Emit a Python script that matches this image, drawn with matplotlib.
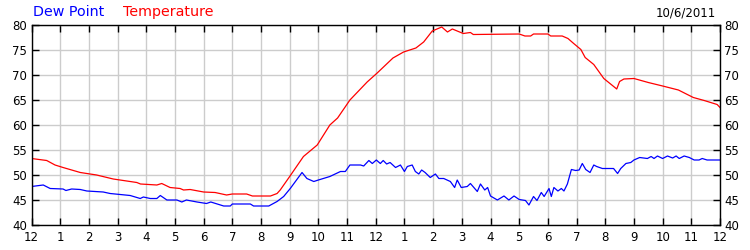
import matplotlib
matplotlib.use("Agg")
import matplotlib.pyplot as plt

# Temperature (hours since midnight, degrees)
temp_h = [0.0, 0.53, 0.82, 1.1, 1.7, 2.27, 2.85, 3.67, 3.8, 4.37, 4.54, 4.83, 5.18, 5.3, 5.53,
          6.0, 6.4, 6.8, 7.0, 7.5, 7.7, 8.33, 8.56, 8.67, 9.0, 9.48, 9.96, 10.4, 10.67, 11.1,
          11.7, 12.05, 12.6, 12.97, 13.4, 13.67, 13.97, 14.3, 14.5, 14.67, 15.05, 15.3, 15.4,
          17.0, 17.2, 17.4, 17.5, 18.0, 18.1, 18.5, 18.7, 18.9, 19.15, 19.3, 19.6, 19.95,
          20.4, 20.5, 20.65, 21.0, 21.5, 22.0, 22.55, 23.07, 23.45, 23.9, 24.0]
temp_v = [53.3, 52.9, 52.0, 51.5, 50.5, 50.0, 49.2, 48.5, 48.2, 48.0, 48.3, 47.5, 47.3, 47.0, 47.1,
          46.6, 46.5, 46.0, 46.2, 46.2, 45.8, 45.8, 46.3, 47.0, 49.7, 53.7, 56.0, 60.0, 61.4, 65.0,
          68.6, 70.4, 73.4, 74.6, 75.4, 76.6, 78.8, 79.6, 78.6, 79.2, 78.3, 78.5, 78.1,
          78.2, 77.8, 77.8, 78.2, 78.2, 77.8, 77.8, 77.3, 76.3, 75.1, 73.5, 72.1, 69.3,
          67.2, 68.7, 69.2, 69.3, 68.5, 67.8, 67.0, 65.5, 64.9, 64.1, 63.5]

# Dew point
dew_h = [0.0, 0.41, 0.65, 1.1, 1.2, 1.4, 1.7, 1.93, 2.5, 2.74, 3.44, 3.79, 3.9, 4.14, 4.37, 4.49,
         4.72, 5.07, 5.24, 5.4, 5.77, 6.1, 6.25, 6.7, 6.93, 7.0, 7.63, 7.74, 8.27, 8.56, 8.79,
         9.02, 9.43, 9.6, 9.84, 10.0, 10.4, 10.77, 10.94, 11.1, 11.47, 11.58, 11.76, 11.88,
         12.02, 12.16, 12.26, 12.38, 12.5, 12.69, 12.86, 13.0, 13.1, 13.27, 13.38, 13.5, 13.6,
         13.72, 13.9, 14.08, 14.2, 14.37, 14.6, 14.75, 14.84, 14.98, 15.19, 15.3, 15.42, 15.54,
         15.65, 15.8, 15.9, 16.0, 16.24, 16.47, 16.64, 16.82, 17.0, 17.22, 17.34, 17.5, 17.62,
         17.77, 17.87, 18.04, 18.12, 18.21, 18.35, 18.47, 18.56, 18.68, 18.82, 18.97, 19.09,
         19.2, 19.32, 19.47, 19.6, 19.7, 19.9, 20.08, 20.29, 20.43, 20.54, 20.72, 20.89, 21.0,
         21.2, 21.47, 21.6, 21.7, 21.82, 22.0, 22.17, 22.35, 22.47, 22.58, 22.75, 22.93, 23.1,
         23.27, 23.38, 23.55, 23.68, 24.0]
dew_v = [47.7, 48.0, 47.3, 47.2, 46.9, 47.2, 47.1, 46.8, 46.6, 46.3, 45.9, 45.3, 45.6, 45.3, 45.3, 45.9,
         45.0, 45.0, 44.6, 45.0, 44.6, 44.3, 44.6, 43.8, 43.8, 44.2, 44.2, 43.8, 43.8, 44.7, 45.7,
         47.3, 50.5, 49.3, 48.7, 49.0, 49.7, 50.7, 50.7, 52.0, 52.0, 51.8, 52.9, 52.3,
         53.0, 52.3, 52.9, 52.2, 52.5, 51.5, 52.0, 50.7, 51.7, 52.0, 50.7, 50.2, 51.0,
         50.5, 49.5, 50.2, 49.3, 49.3, 48.7, 47.5, 49.0, 47.5, 47.7, 48.3, 47.5, 46.7,
         48.2, 47.0, 47.5, 45.8, 45.0, 45.8, 45.0, 45.8, 45.1, 44.9, 44.0, 45.7, 44.9,
         46.5, 45.7, 47.3, 45.7, 47.5, 46.8, 47.3, 46.8, 48.2, 51.1, 50.9, 51.0,
         52.3, 51.1, 50.5, 52.0, 51.7, 51.3, 51.3, 51.3, 50.3, 51.3, 52.3, 52.5, 53.0,
         53.5, 53.3, 53.7, 53.3, 53.8, 53.3, 53.8, 53.4, 53.8, 53.3, 53.8, 53.5, 53.0,
         53.0, 53.3, 53.0, 53.0, 53.0]

xtick_pos = list(range(0, 25))
xtick_lab = ["12", "1", "2", "3", "4", "5", "6", "7", "8", "9", "10", "11",
             "12", "1", "2", "3", "4", "5", "6", "7", "8", "9", "10", "11", "12"]
ytick_pos = [40, 45, 50, 55, 60, 65, 70, 75, 80]

fig = plt.figure(figsize=(7.5, 2.5), dpi=100)
ax = fig.add_axes([31.5 / 750, 25 / 250, (720 - 31.5) / 750, 200 / 250])
ax.plot(temp_h, temp_v, color="#ff0000", lw=0.9)
ax.plot(dew_h, dew_v, color="#0000ff", lw=0.9)
ax.set_xlim(0, 24)
ax.set_ylim(40, 80)
ax.set_xticks(xtick_pos)
ax.set_xticklabels(xtick_lab)
ax.set_yticks(ytick_pos)
ax.grid(True, color="#cccccc", lw=1.0)
ax.set_axisbelow(True)
ax.tick_params(axis="both", direction="in", length=5, width=1, color="black",
               labelsize=8.5, pad=3, top=True, right=True, labelright=True)
ax.tick_params(axis="x", pad=4)
for s in ax.spines.values():
    s.set_color("black")
    s.set_linewidth(1.0)

fig.text(33 / 750, 1 - 12 / 250, "Dew Point", color="#0000ff", fontsize=10.3, va="center", ha="left")
fig.text(123 / 750, 1 - 12 / 250, "Temperature", color="#ff0000", fontsize=10.3, va="center", ha="left")
fig.text(716 / 750, 1 - 13 / 250, "10/6/2011", color="black", fontsize=8.5, va="center", ha="right")

fig.savefig("out.png", dpi=100)
